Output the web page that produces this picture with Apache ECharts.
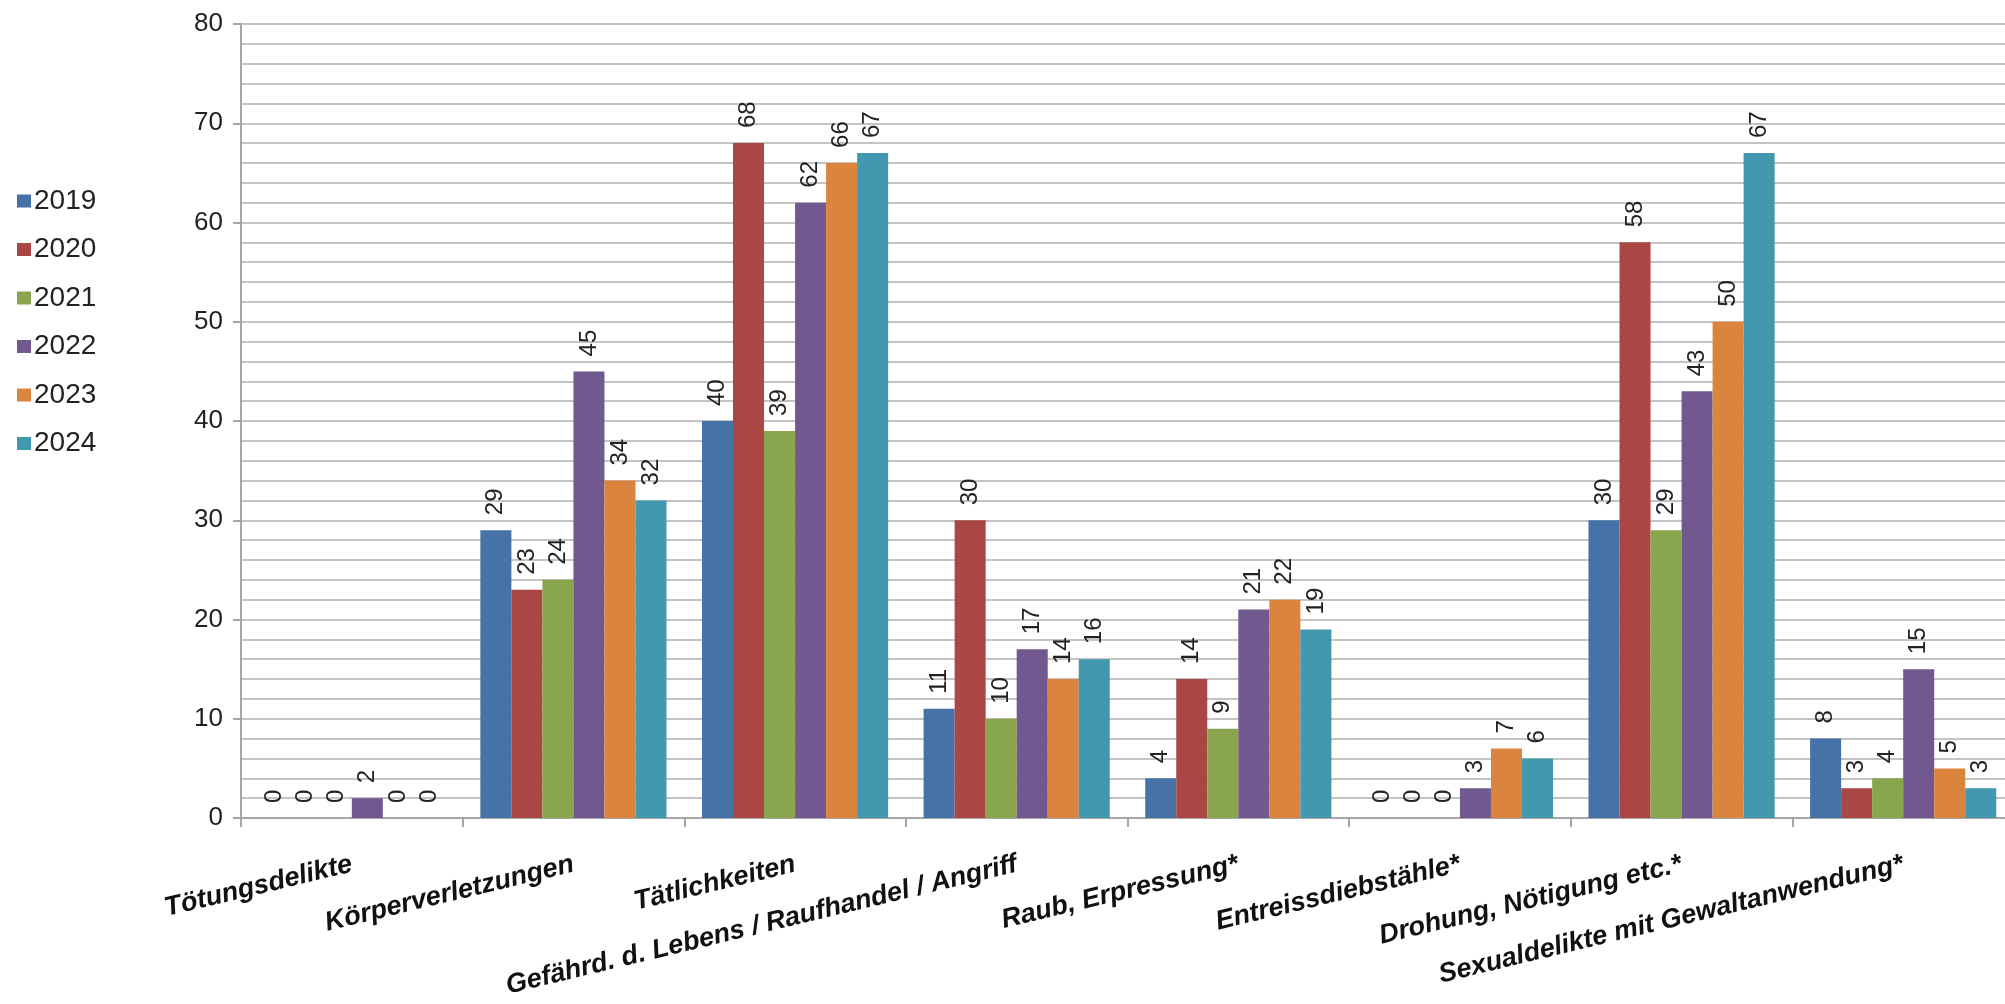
<!DOCTYPE html>
<html>
<head>
<meta charset="utf-8">
<script src="https://cdn.jsdelivr.net/npm/echarts@6/dist/echarts.min.js"></script>
<style>html,body{margin:0;padding:0;background:#fff;}#c{width:2005px;height:1004px;}</style>
</head>
<body>
<div id="c"></div>
<script>
const categories = ['Tötungsdelikte','Körperverletzungen','Tätlichkeiten','Gefährd. d. Lebens / Raufhandel / Angriff','Raub, Erpressung*','Entreissdiebstähle*','Drohung, Nötigung etc.*','Sexualdelikte mit Gewaltanwendung*'];
const years = ['2019','2020','2021','2022','2023','2024'];
const v2019 = [0,29,40,11,4,0,30,8];
const v2020 = [0,23,68,30,14,0,58,3];
const v2021 = [0,24,39,10,9,0,29,4];
const v2022 = [2,45,62,17,21,3,43,15];
const v2023 = [0,34,66,14,22,7,50,5];
const v2024 = [0,32,67,16,19,6,67,3];
const yTicks = [0,10,20,30,40,50,60,70,80];
const colors = ['#4572A7','#AA4643','#89A54E','#71588F','#DB843D','#4198AF'];
const values = [v2019,v2020,v2021,v2022,v2023,v2024];

const chart = echarts.init(document.getElementById('c'));
chart.setOption({
  animation:false,
  backgroundColor:'#fff',
  color: colors,
  legend:{
    orient:'vertical', left:12, top:182,
    icon:'rect', itemWidth:14, itemHeight:13, itemGap:20.5,
    textStyle:{fontFamily:'Liberation Sans', fontSize:28, color:'#222', padding:[0,0,0,-2]},
    data: years
  },
  grid:{left:241, top:24, width:1773, height:794, containLabel:false, outerBoundsMode:'none'},
  xAxis:{
    type:'category', data:categories,
    axisLine:{lineStyle:{color:'#a6a6a6', width:2}},
    axisTick:{show:true, length:9, lineStyle:{color:'#a6a6a6', width:2}},
    axisLabel:{rotate:13.5, interval:0, margin:46, fontFamily:'Liberation Sans', fontSize:27, fontWeight:'bold', fontStyle:'italic', color:'#111'}
  },
  yAxis:{
    type:'value', min:yTicks[0], max:yTicks[yTicks.length-1], interval:10,
    axisLine:{show:true, lineStyle:{color:'#a6a6a6', width:2}},
    axisTick:{show:true, length:8, lineStyle:{color:'#a6a6a6', width:2}},
    axisLabel:{margin:18, fontFamily:'Liberation Sans', fontSize:26, color:'#222'},
    splitLine:{show:true, lineStyle:{color:'#c4c4c4', width:2}},
    minorTick:{show:false, splitNumber:5},
    minorSplitLine:{show:true, lineStyle:{color:'#c4c4c4', width:2}}
  },
  series: years.map((y,i)=>({
    name:y, type:'bar', data:values[i],
    barGap:'0%', barCategoryGap:'16%',
    itemStyle:{color:colors[i]},
    label:{show:true, position:'top', rotate:90, align:'left', verticalAlign:'middle', distance:15,
      fontFamily:'Liberation Sans', fontSize:24, color:'#222'}
  }))
});
</script>
</body>
</html>
